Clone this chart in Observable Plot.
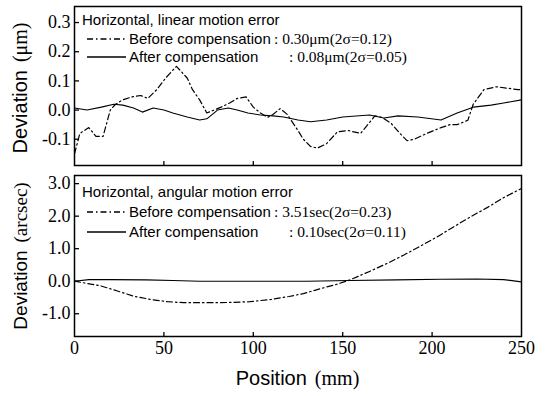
<!DOCTYPE html>
<html><head><meta charset="utf-8">
<script src="https://cdn.jsdelivr.net/npm/d3@7"></script>
<script src="https://cdn.jsdelivr.net/npm/@observablehq/plot@0.6"></script>
<style>
body{margin:0;background:#fff;}
#chart{width:550px;height:396px;}
#chart svg{display:block;}
</style></head><body><div id="chart"></div>
<script>
// ---- data ----
const linBeforeX = [0,3,8,12,16,20,23,27,32,37,41,46,51,57,63,66,70,74,78,82,87,91,96,100,104,108,111,115,119,125,128,132,136,141,147,153,160,164,168,172,177,182,186,190,197,205,210,214,220,223,226,229,236,242,248,250];
const linBeforeY = [-0.15,-0.08,-0.06,-0.09,-0.09,0.0,0.02,0.035,0.045,0.05,0.04,0.07,0.11,0.15,0.11,0.07,0.035,-0.01,0.0,0.01,0.025,0.04,0.045,0.01,-0.01,-0.025,-0.015,0.005,-0.015,-0.07,-0.1,-0.125,-0.13,-0.115,-0.075,-0.07,-0.08,-0.05,-0.02,-0.025,-0.045,-0.08,-0.105,-0.1,-0.08,-0.06,-0.05,-0.05,-0.035,0.02,0.045,0.07,0.08,0.075,0.07,0.07];
const linAfterX = [0,7,15,22,27,33,38,44,50,55,63,70,74,80,86,91,97,104,111,117,125,132,141,150,165,173,181,192,205,214,223,233,240,250];
const linAfterY = [0.007,0.0,0.01,0.02,0.017,0.007,-0.007,0.007,0.0,-0.01,-0.024,-0.034,-0.03,0.0,0.007,0.0,-0.01,-0.017,-0.02,-0.024,-0.034,-0.04,-0.034,-0.024,-0.017,-0.027,-0.02,-0.024,-0.034,-0.01,0.01,0.017,0.024,0.035];
const angBeforeX = [0,14.5,24,33,42.5,52,61,70,80,89,98,110,120,128,137.6,147,154,165,175,184,193.5,203,212,221.5,231,240,250];
const angBeforeY = [0,-0.14,-0.3,-0.46,-0.56,-0.63,-0.66,-0.66,-0.66,-0.65,-0.63,-0.56,-0.47,-0.38,-0.23,-0.09,0.04,0.3,0.55,0.8,1.08,1.37,1.67,1.98,2.27,2.57,2.85];
const angAfterX = [0,8,20,40,55,70,100,130,154,180,205,225,240,250];
const angAfterY = [0,0.05,0.05,0.04,0.02,0,0,0,0.02,0.04,0.06,0.07,0.05,-0.02];

const xTicks = [0,50,100,150,200,250];
const linYTicks = [-0.1,0.0,0.1,0.2,0.3];
const angYTicks = [-1.0,0.0,1.0,2.0,3.0];

const linTitle = "Horizontal, linear motion error";
const angTitle = "Horizontal, angular motion error";
const seriesNames = ["Before compensation","After compensation"];
const linStats = [": 0.30\u03bcm(2\u03c3=0.12)", ": 0.08\u03bcm(2\u03c3=0.05)"];
const angStats = [": 3.51sec(2\u03c3=0.23)", ": 0.10sec(2\u03c3=0.11)"];

const xLabel = ["Position", "(mm)"];
const linYLabel = ["Deviation", "(\u03bcm)"];
const angYLabel = ["Deviation", "(arcsec)"];

// ---- layout ----
const W = 550, ML = 74, MR = 29;
const SANS = "'Liberation Sans', Arial, sans-serif";
const SERIF = "'Liberation Serif', 'Times New Roman', serif";
const DASH = "6,3,1.5,3";

function toRows(xs, ys){ return xs.map((x,i)=>({x, y: ys[i]})); }

function panel(o){
  const plotW = W - ML - MR;
  const plotH = o.height - o.mt - o.mb;
  const marks = [
    Plot.line(toRows(o.bx, o.by), {x:"x", y:"y", stroke:"black", strokeWidth:1.2, strokeDasharray: DASH}),
    Plot.line(toRows(o.ax, o.ay), {x:"x", y:"y", stroke:"black", strokeWidth:1.1}),
    Plot.tickY(o.yTicks, {y: d=>d, insetRight: plotW-5, stroke:"black", strokeWidth:1.3}),
    Plot.tickX(xTicks.slice(1,-1), {x: d=>d, insetTop: plotH-4, stroke:"black", strokeWidth:1.3}),
    Plot.axisY(o.yTicks, {tickSize:0, tickPadding:4, tickFormat: d=>d.toFixed(1), fontSize:18, fontFamily:SERIF, label:null}),
    Plot.frame({stroke:"black", strokeWidth:1.5})
  ];
  if (o.xAxis) marks.push(Plot.axisX(xTicks, {tickSize:0, tickPadding:5, fontSize:18, fontFamily:SERIF, label:null}));
  else marks.push(Plot.axisX({ticks:[], label:null}));
  const svg = Plot.plot({
    width: W, height: o.height,
    marginLeft: ML, marginRight: MR, marginTop: o.mt, marginBottom: o.mb,
    x: {domain:[0,250]},
    y: {domain:o.yDomain},
    style: {background:"white", color:"black", overflow:"visible"},
    marks
  });
  const s = d3.select(svg);
  const L = o.leg;
  const g = s.append("g").attr("text-anchor","start");
  g.append("text").attr("x",82).attr("y",L[0]).attr("dy","0.35em")
    .attr("font-family",SANS).attr("font-size",15).text(o.title);
  [0,1].forEach(i=>{
    g.append("line").attr("x1",87).attr("x2",126).attr("y1",L[i+1]).attr("y2",L[i+1])
      .attr("stroke","black").attr("stroke-width",1.3)
      .attr("stroke-dasharray", i===0 ? DASH : null);
    g.append("text").attr("x",129).attr("y",L[i+1]).attr("dy","0.35em")
      .attr("font-family",SANS).attr("font-size",15).text(seriesNames[i]);
    g.append("text").attr("x", i===0 ? 274 : 289).attr("y",L[i+1]).attr("dy","0.35em")
      .attr("font-family",SERIF).attr("font-size",15.5).text(o.stats[i]);
  });
  const yl = s.append("text").attr("transform",`translate(27,${o.ylc}) rotate(-90)`)
    .attr("text-anchor","middle").attr("font-size",o.ylfs);
  yl.append("tspan").attr("font-family",SANS).text(o.ylab[0]);
  yl.append("tspan").attr("font-family",SERIF).attr("dx",8).text(o.ylab[1]);
  if (o.xAxis) {
    const xl = s.append("text").attr("x",(ML + W - MR)/2).attr("y",o.height-11)
      .attr("text-anchor","middle").attr("font-size",20);
    xl.append("tspan").attr("font-family",SANS).text(xLabel[0]);
    xl.append("tspan").attr("font-family",SERIF).attr("dx",8).text(xLabel[1]);
  }
  return svg;
}

const topPanel = panel({height:170, mt:6, mb:5, yDomain:[-0.19,0.355], yTicks:linYTicks, xAxis:false,
  bx:linBeforeX, by:linBeforeY, ax:linAfterX, ay:linAfterY,
  title:linTitle, stats:linStats, leg:[20,39,57], ylab:linYLabel, ylc:88, ylfs:20});
const botPanel = panel({height:226, mt:5, mb:60, yDomain:[-1.7,3.25], yTicks:angYTicks, xAxis:true,
  bx:angBeforeX, by:angBeforeY, ax:angAfterX, ay:angAfterY,
  title:angTitle, stats:angStats, leg:[22,42,62], ylab:angYLabel, ylc:86, ylfs:19});
document.getElementById("chart").append(topPanel, botPanel);
</script>
</body></html>
